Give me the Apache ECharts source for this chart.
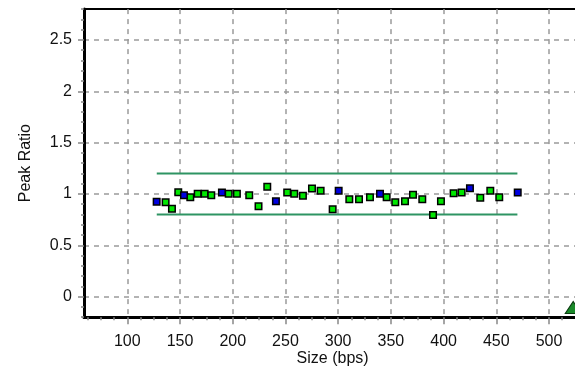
<!DOCTYPE html>
<html>
<head>
<meta charset="utf-8">
<script src="https://cdn.jsdelivr.net/npm/echarts@6/dist/echarts.min.js"></script>
<style>
html,body{margin:0;padding:0;background:#fff;}
#chart{width:575px;height:367px;}
</style>
</head>
<body>
<div id="chart"></div>
<script>
// ---- data ----
var greenSize  = [136.4, 142.4, 148.4, 159.8, 166.8, 173.4, 179.7, 196.2, 204.0, 215.7, 224.5, 232.8, 251.7, 258.4, 266.6, 275.2, 283.4, 294.8, 310.6, 319.8, 330.2, 346.0, 354.2, 363.4, 371.0, 379.8, 390.0, 397.5, 409.5, 417.1, 434.8, 444.3, 452.8];
var greenRatio = [0.919, 0.857, 1.017, 0.968, 1.003, 1.003, 0.987, 1.003, 1.003, 0.987, 0.881, 1.071, 1.013, 1.003, 0.983, 1.052, 1.032, 0.851, 0.948, 0.948, 0.968, 0.968, 0.919, 0.929, 0.993, 0.948, 0.796, 0.929, 1.007, 1.013, 0.964, 1.032, 0.968];
var blueSize   = [127.9, 153.8, 189.8, 241.0, 300.5, 339.7, 425.0, 470.3];
var blueRatio  = [0.925, 0.987, 1.013, 0.929, 1.032, 1.003, 1.055, 1.013];
var limitSize  = [128, 470];
var upperLimit = [1.2, 1.2];
var lowerLimit = [0.8, 0.8];
var triangleSize  = [522.9];
var triangleRatio = [-0.105];
var xTickLabels = [100, 150, 200, 250, 300, 350, 400, 450, 500];
var yTickLabels = [0, 0.5, 1, 1.5, 2, 2.5];

function pairs(xs, ys){ return xs.map(function(x,i){ return [x, ys[i]]; }); }

var FONT = 'Liberation Sans, Arial, sans-serif';
var gridDash = {color:'#9a9a9a', type:[5,5], width:1.5};

var chart = echarts.init(document.getElementById('chart'));
chart.setOption({
  animation:false,
  backgroundColor:'#fff',
  grid:[
    {left:84, width:497.2, top:9.1, height:308.1, outerBoundsMode:'none', containLabel:false,
     show:true, borderColor:'#000', borderWidth:2, backgroundColor:'transparent'},
    {left:87.8, width:500.8, top:9.1, height:308.1, outerBoundsMode:'none', containLabel:false},
    {left:127.3, width:421.7, top:9.1, height:308.1, outerBoundsMode:'none', containLabel:false},
    {left:84, width:497.2, top:40, height:256.7, outerBoundsMode:'none', containLabel:false}
  ],
  xAxis:[
    {gridIndex:0, type:'value', min:59, max:530.5,
     axisLine:{show:true, onZero:false, lineStyle:{color:'#000', width:3}},
     axisTick:{show:false}, axisLabel:{show:false}, splitLine:{show:false},
     name:'Size (bps)', nameLocation:'middle', nameGap:33,
     nameTextStyle:{fontFamily:FONT, fontSize:16, color:'#111'}},
    {gridIndex:1, type:'value', min:62.5, max:537.5, interval:12.5,
     axisLine:{show:false, onZero:false}, axisTick:{show:true, length:3, lineStyle:{color:'#888', width:1.5}},
     axisLabel:{show:false}, splitLine:{show:false}},
    {gridIndex:2, type:'value', min:xTickLabels[0], max:xTickLabels[xTickLabels.length-1], interval:50,
     axisLine:{show:false, onZero:false}, axisTick:{show:true, length:7, lineStyle:{color:'#888', width:1.5}},
     axisLabel:{show:true, margin:16, fontFamily:FONT, fontSize:16, color:'#111'},
     splitLine:{show:true, lineStyle:gridDash}},
    {gridIndex:3, type:'value', show:false, min:0, max:1, axisLine:{onZero:false}}
  ],
  yAxis:[
    {gridIndex:0, type:'value', min:-0.2, max:2.8, interval:0.1,
     axisLine:{show:true, onZero:false, lineStyle:{color:'#000', width:3}},
     axisTick:{show:true, length:3, lineStyle:{color:'#888', width:1.5}},
     axisLabel:{show:false}, splitLine:{show:false},
     name:'Peak Ratio', nameLocation:'middle', nameGap:50,
     nameTextStyle:{fontFamily:FONT, fontSize:16, color:'#111'}},
    {gridIndex:1, type:'value', show:false, min:0, max:1, axisLine:{onZero:false}},
    {gridIndex:2, type:'value', show:false, min:0, max:1, axisLine:{onZero:false}},
    {gridIndex:3, type:'value', min:yTickLabels[0], max:yTickLabels[yTickLabels.length-1], interval:0.5,
     axisLine:{show:false, onZero:false}, axisTick:{show:true, length:6, lineStyle:{color:'#888', width:1.5}},
     axisLabel:{show:true, margin:12, fontFamily:FONT, fontSize:16, color:'#111'},
     splitLine:{show:true, lineStyle:gridDash}}
  ],
  series:[
    {type:'line', xAxisIndex:0, yAxisIndex:0, data:pairs(limitSize, upperLimit), symbol:'none',
     lineStyle:{color:'#2e9463', width:2}, z:3},
    {type:'line', xAxisIndex:0, yAxisIndex:0, data:pairs(limitSize, lowerLimit), symbol:'none',
     lineStyle:{color:'#2e9463', width:2}, z:3},
    {type:'scatter', xAxisIndex:0, yAxisIndex:0, data:pairs(greenSize, greenRatio), symbol:'rect', symbolSize:6.5,
     itemStyle:{color:'#00e600', borderColor:'#000', borderWidth:1.5, opacity:1}, z:4},
    {type:'scatter', xAxisIndex:0, yAxisIndex:0, data:pairs(blueSize, blueRatio), symbol:'rect', symbolSize:6.5,
     itemStyle:{color:'#0000e0', borderColor:'#000', borderWidth:1.5, opacity:1}, z:5},
    {type:'scatter', xAxisIndex:0, yAxisIndex:0, data:pairs(triangleSize, triangleRatio), symbol:'triangle', symbolSize:[16,12],
     itemStyle:{color:'#1a8a2a', borderColor:'#0a3a10', borderWidth:1, opacity:1}, z:5}
  ]
});
</script>
</body>
</html>
